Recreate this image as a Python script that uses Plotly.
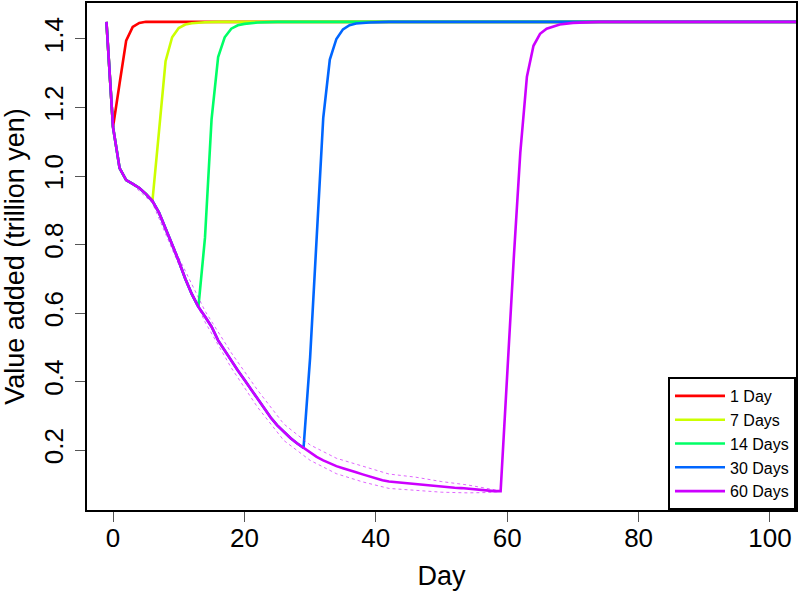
import plotly.graph_objects as go

# ---- data ----
decline_days = list(range(-1, 60))
decline_vals = [1.450, 1.143, 1.023, 0.988, 0.977, 0.965, 0.948, 0.927, 0.893, 0.848,
                0.800, 0.752, 0.700, 0.655, 0.618, 0.590, 0.560, 0.520, 0.490, 0.462,
                0.432, 0.405, 0.378, 0.350, 0.322, 0.295, 0.272, 0.252, 0.235, 0.220,
                0.206, 0.192, 0.180, 0.170, 0.161, 0.153, 0.147, 0.142, 0.135, 0.129,
                0.123, 0.118, 0.112, 0.108, 0.106, 0.104, 0.103, 0.101, 0.099, 0.098,
                0.095, 0.092, 0.091, 0.090, 0.089, 0.087, 0.084, 0.083, 0.082, 0.080,
                0.080]

band_days = [3, 6, 10, 14, 18, 22, 26, 30, 34, 38, 42, 46, 50, 54, 57, 59]
band_upper = [0.980, 0.933, 0.762, 0.606, 0.484, 0.375, 0.276, 0.215, 0.176, 0.152,
              0.130, 0.121, 0.108, 0.098, 0.088, 0.081]
band_lower = [0.974, 0.921, 0.742, 0.574, 0.440, 0.325, 0.228, 0.170, 0.131, 0.107,
              0.088, 0.083, 0.077, 0.075, 0.076, 0.079]

scenario_names = ["1 Day", "7 Days", "14 Days", "30 Days", "60 Days"]
scenario_colors = ["#FF0000", "#CCFF00", "#00FF66", "#0066FF", "#CC00FF"]
branch_day = [0, 6, 13, 29, 59]

rec1_days = [1, 2, 3, 4, 5, 105]
rec1_vals = [1.27, 1.395, 1.435, 1.447, 1.45, 1.45]
rec7_days = [7, 8, 9, 10, 11, 12, 14, 16, 105]
rec7_vals = [1.13, 1.335, 1.405, 1.432, 1.442, 1.446, 1.449, 1.45, 1.45]
rec14_days = [14, 15, 16, 17, 18, 19, 20, 22, 25, 105]
rec14_vals = [0.82, 1.165, 1.347, 1.405, 1.43, 1.44, 1.444, 1.448, 1.45, 1.45]
rec30_days = [30, 31, 32, 33, 34, 35, 36, 37, 39, 42, 105]
rec30_vals = [0.47, 0.83, 1.17, 1.34, 1.40, 1.428, 1.44, 1.445, 1.448, 1.45, 1.45]
rec60_days = [60, 61, 62, 63, 64, 65, 66, 67, 68, 70, 74, 105]
rec60_vals = [0.44, 0.76, 1.07, 1.29, 1.38, 1.415, 1.43, 1.437, 1.442, 1.447, 1.45, 1.45]

recoveries = [(rec1_days, rec1_vals), (rec7_days, rec7_vals), (rec14_days, rec14_vals),
              (rec30_days, rec30_vals), (rec60_days, rec60_vals)]

x_ticks = [0, 20, 40, 60, 80, 100]
y_ticks = [0.2, 0.4, 0.6, 0.8, 1.0, 1.2, 1.4]

FONT = "Liberation Sans, Arial, Helvetica, sans-serif"

fig = go.Figure()

def scenario_trace(i):
    b = branch_day[i]
    xs = [d for d in decline_days if d <= b]
    ys = [v for d, v in zip(decline_days, decline_vals) if d <= b]
    rd, rv = recoveries[i]
    return go.Scatter(x=xs + rd, y=ys + rv, mode="lines", name=scenario_names[i],
                      line=dict(color=scenario_colors[i], width=2.6))

for i in range(4):
    fig.add_trace(scenario_trace(i))

for band in (band_upper, band_lower):
    fig.add_trace(go.Scatter(x=band_days, y=band, mode="lines", showlegend=False,
                             hoverinfo="skip",
                             line=dict(color="rgba(204,0,255,0.6)", width=1, dash="dot")))

fig.add_trace(scenario_trace(4))

axis_common = dict(showgrid=False, zeroline=False, showline=True, mirror=True,
                   linecolor="black", linewidth=2, ticks="outside", ticklen=10,
                   tickwidth=1, tickcolor="#555555", automargin=False,
                   tickfont=dict(family=FONT, size=26, color="black"))

fig.update_xaxes(range=[-3.96, 103.96], tickvals=x_ticks, ticklabelstandoff=-6,
                 **axis_common,
                 title=dict(text="Day", font=dict(family=FONT, size=27, color="black"),
                            standoff=14))
fig.update_yaxes(range=[0.025, 1.505], tickvals=y_ticks, tickformat=".1f",
                 tickangle=-90, ticklabelstandoff=2, **axis_common,
                 title=dict(text="Value added (trillion yen)",
                            font=dict(family=FONT, size=27, color="black"),
                            standoff=16))

fig.update_layout(
    width=800, height=595,
    margin=dict(l=87, r=4, t=3, b=85),
    plot_bgcolor="white", paper_bgcolor="white",
    font=dict(family=FONT, color="black"),
    legend=dict(x=1, y=0, xanchor="right", yanchor="bottom",
                bordercolor="black", borderwidth=2, bgcolor="white",
                font=dict(family=FONT, size=16, color="black"),
                tracegroupgap=0, itemwidth=50),
)

fig.write_html("out.html", config={"displayModeBar": False},
               post_script="document.body.style.margin='0';document.body.style.padding='0';")
